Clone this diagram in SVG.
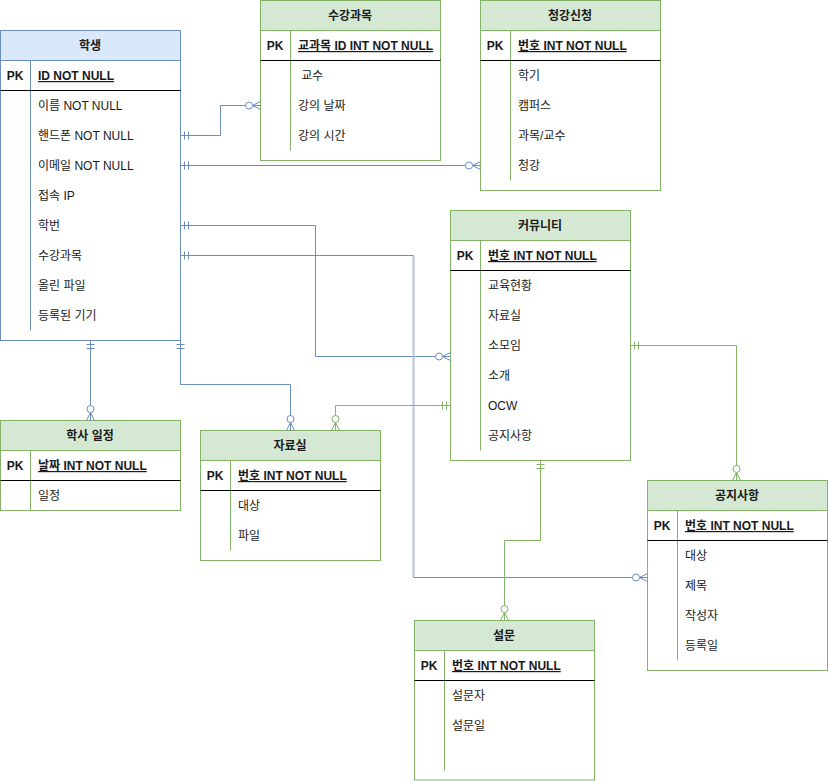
<svg xmlns="http://www.w3.org/2000/svg" width="829" height="781" viewBox="0 0 829 781">
<style>
text{font-family:"Liberation Sans","Noto Sans CJK KR",sans-serif;font-size:12px;fill:#1a1a1a}
.hd{font-weight:bold;text-anchor:middle}
.pk{font-weight:bold}
.pkl{font-weight:bold;text-anchor:middle}
.u{text-decoration:underline}
.b{stroke:#6c8ebf}
.g{stroke:#82b366}
.body{fill:#fff}
.hb{fill:#dae8fc}
.hg{fill:#d5e8d4}
.sep{stroke:#000}
.conn path{fill:none}
</style>
<defs>
<marker id="zmB" viewBox="-20 -10 20 20" refX="0" refY="0" markerWidth="20" markerHeight="20" markerUnits="userSpaceOnUse" orient="auto-start-reverse">
<path d="M0,-4 L-8,0 L0,4 M-8,0 H0" fill="none" stroke="#6c8ebf"/>
<circle cx="-11.5" cy="0" r="3.5" fill="#fff" stroke="#6c8ebf"/>
</marker>
<marker id="moB" viewBox="-20 -10 20 20" refX="0" refY="0" markerWidth="20" markerHeight="20" markerUnits="userSpaceOnUse" orient="auto-start-reverse">
<path d="M-4,-4 V4 M-8,-4 V4" fill="none" stroke="#6c8ebf"/>
</marker>
<marker id="zmG" viewBox="-20 -10 20 20" refX="0" refY="0" markerWidth="20" markerHeight="20" markerUnits="userSpaceOnUse" orient="auto-start-reverse">
<path d="M0,-4 L-8,0 L0,4 M-8,0 H0" fill="none" stroke="#82b366"/>
<circle cx="-11.5" cy="0" r="3.5" fill="#fff" stroke="#82b366"/>
</marker>
<marker id="moG" viewBox="-20 -10 20 20" refX="0" refY="0" markerWidth="20" markerHeight="20" markerUnits="userSpaceOnUse" orient="auto-start-reverse">
<path d="M-4,-4 V4 M-8,-4 V4" fill="none" stroke="#82b366"/>
</marker>
</defs>

<!-- 학생 -->
<g id="t-student">
<rect class="body b" x="0.5" y="30.5" width="180" height="310"/>
<rect class="hb b" x="0.5" y="30.5" width="180" height="30"/>
<line class="b" x1="30.5" y1="60.5" x2="30.5" y2="330.5"/>
<line class="sep" x1="0.5" y1="90.5" x2="180.5" y2="90.5"/>
<text class="hd" x="90" y="50">학생</text>
<text class="pkl" x="15" y="80">PK</text>
<text class="pk u" x="38" y="80">ID NOT NULL</text>
<text x="38" y="110">이름 NOT NULL</text>
<text x="38" y="140">핸드폰 NOT NULL</text>
<text x="38" y="170">이메일 NOT NULL</text>
<text x="38" y="200">접속 IP</text>
<text x="38" y="230">학번</text>
<text x="38" y="260">수강과목</text>
<text x="38" y="290">올린 파일</text>
<text x="38" y="320">등록된 기기</text>
</g>

<!-- 수강과목 -->
<g id="t-course">
<rect class="body g" x="260.5" y="0.5" width="180" height="160"/>
<rect class="hg g" x="260.5" y="0.5" width="180" height="30"/>
<line class="g" x1="290.5" y1="30.5" x2="290.5" y2="150.5"/>
<line class="sep" x1="260.5" y1="60.5" x2="440.5" y2="60.5"/>
<text class="hd" x="350" y="20">수강과목</text>
<text class="pkl" x="275" y="50">PK</text>
<text class="pk u" x="298" y="50">교과목 ID INT NOT NULL</text>
<text x="298" y="80" xml:space="preserve"> 교수</text>
<text x="298" y="110">강의 날짜</text>
<text x="298" y="140">강의 시간</text>
</g>

<!-- 청강신청 -->
<g id="t-audit">
<rect class="body g" x="480.5" y="0.5" width="180" height="190"/>
<rect class="hg g" x="480.5" y="0.5" width="180" height="30"/>
<line class="g" x1="510.5" y1="30.5" x2="510.5" y2="180.5"/>
<line class="sep" x1="480.5" y1="60.5" x2="660.5" y2="60.5"/>
<text class="hd" x="570" y="20">청강신청</text>
<text class="pkl" x="495" y="50">PK</text>
<text class="pk u" x="518" y="50">번호 INT NOT NULL</text>
<text x="518" y="80">학기</text>
<text x="518" y="110">캠퍼스</text>
<text x="518" y="140">과목/교수</text>
<text x="518" y="170">청강</text>
</g>

<!-- 커뮤니티 -->
<g id="t-community">
<rect class="body g" x="450.5" y="210.5" width="180" height="250"/>
<rect class="hg g" x="450.5" y="210.5" width="180" height="30"/>
<line class="g" x1="480.5" y1="240.5" x2="480.5" y2="450.5"/>
<line class="sep" x1="450.5" y1="270.5" x2="630.5" y2="270.5"/>
<text class="hd" x="540" y="230">커뮤니티</text>
<text class="pkl" x="465" y="260">PK</text>
<text class="pk u" x="488" y="260">번호 INT NOT NULL</text>
<text x="488" y="290">교육현황</text>
<text x="488" y="320">자료실</text>
<text x="488" y="350">소모임</text>
<text x="488" y="380">소개</text>
<text x="488" y="410">OCW</text>
<text x="488" y="440">공지사항</text>
</g>

<!-- 학사 일정 -->
<g id="t-schedule">
<rect class="body g" x="0.5" y="420.5" width="180" height="90"/>
<rect class="hg g" x="0.5" y="420.5" width="180" height="30"/>
<line class="g" x1="30.5" y1="450.5" x2="30.5" y2="510.5"/>
<line class="sep" x1="0.5" y1="480.5" x2="180.5" y2="480.5"/>
<text class="hd" x="90" y="440">학사 일정</text>
<text class="pkl" x="15" y="470">PK</text>
<text class="pk u" x="38" y="470">날짜 INT NOT NULL</text>
<text x="38" y="500">일정</text>
</g>

<!-- 자료실 -->
<g id="t-archive">
<rect class="body g" x="200.5" y="430.5" width="180" height="130"/>
<rect class="hg g" x="200.5" y="430.5" width="180" height="30"/>
<line class="g" x1="230.5" y1="460.5" x2="230.5" y2="550.5"/>
<line class="sep" x1="200.5" y1="490.5" x2="380.5" y2="490.5"/>
<text class="hd" x="290" y="450">자료실</text>
<text class="pkl" x="215" y="480">PK</text>
<text class="pk u" x="238" y="480">번호 INT NOT NULL</text>
<text x="238" y="510">대상</text>
<text x="238" y="540">파일</text>
</g>

<!-- 공지사항 -->
<g id="t-notice">
<rect class="body g" x="647.5" y="480.5" width="180" height="190"/>
<rect class="hg g" x="647.5" y="480.5" width="180" height="30"/>
<line class="g" x1="677.5" y1="510.5" x2="677.5" y2="660.5"/>
<line class="sep" x1="647.5" y1="540.5" x2="827.5" y2="540.5"/>
<text class="hd" x="737" y="500">공지사항</text>
<text class="pkl" x="662" y="530">PK</text>
<text class="pk u" x="685" y="530">번호 INT NOT NULL</text>
<text x="685" y="560">대상</text>
<text x="685" y="590">제목</text>
<text x="685" y="620">작성자</text>
<text x="685" y="650">등록일</text>
</g>

<!-- 설문 -->
<g id="t-survey">
<rect class="body g" x="414.5" y="620.5" width="180" height="159.5"/>
<rect class="hg g" x="414.5" y="620.5" width="180" height="30"/>
<line class="g" x1="444.5" y1="650.5" x2="444.5" y2="770.5"/>
<line class="sep" x1="414.5" y1="680.5" x2="594.5" y2="680.5"/>
<text class="hd" x="504" y="640">설문</text>
<text class="pkl" x="429" y="670">PK</text>
<text class="pk u" x="452" y="670">번호 INT NOT NULL</text>
<text x="452" y="700">설문자</text>
<text x="452" y="730">설문일</text>
</g>

<g id="connectors" class="conn">
<path class="b" d="M180.5,135.5 H220.5 V105.5 H260.5" marker-start="url(#moB)" marker-end="url(#zmB)"/>
<path class="b" d="M180.5,165.5 H480.5" marker-start="url(#moB)" marker-end="url(#zmB)"/>
<path class="b" d="M180.5,225.5 H315.5 V356.5 H450.5" marker-start="url(#moB)" marker-end="url(#zmB)"/>
<path class="b" d="M180.5,255.5 H413.5 V577.5 H647.5" marker-start="url(#moB)" marker-end="url(#zmB)"/>
<line x1="413.5" y1="255.5" x2="413.5" y2="577.5" stroke="#b4c4de" stroke-width="2"/>
<path class="b" d="M90.5,340.5 V420.5" marker-start="url(#moB)" marker-end="url(#zmB)"/>
<path class="b" d="M180.5,340.5 V384.5 H290.5 V430.5" marker-start="url(#moB)" marker-end="url(#zmB)"/>
<path class="g" d="M450.5,405.5 H335.5 V430.5" marker-start="url(#moG)" marker-end="url(#zmG)"/>
<path class="g" d="M630.5,345.5 H736.5 V480.5" marker-start="url(#moG)" marker-end="url(#zmG)"/>
<path class="g" d="M540.5,460.5 V540.5 H504.5 V620.5" marker-start="url(#moG)" marker-end="url(#zmG)"/>
</g>
</svg>
